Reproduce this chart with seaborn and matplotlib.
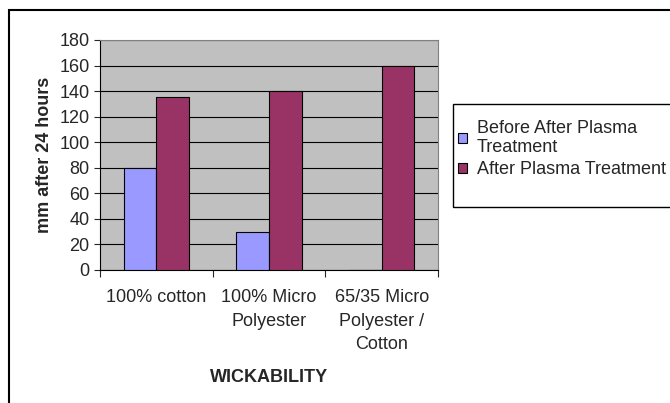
import pandas as pd
import numpy as np
import matplotlib
matplotlib.use('Agg')
import matplotlib.pyplot as plt
import seaborn as sns
from matplotlib.patches import Rectangle, Patch

# Data
fabrics = ['100% cotton', '100% Micro\nPolyester', '65/35 Micro\nPolyester /\nCotton']
before = [80, 30, 0]
after = [135, 140, 160]
series = ['Before After Plasma\nTreatment', 'After Plasma Treatment']
colors = ['#9999FF', '#993366']

df = pd.DataFrame({
    'fabric': fabrics * 2,
    'value': before + after,
    'series': [series[0]] * 3 + [series[1]] * 3,
})

sns.set_style('white')
plt.rcParams['font.family'] = ['Liberation Sans', 'DejaVu Sans']

W, H = 670, 403
fig = plt.figure(figsize=(W / 100, H / 100), dpi=100)
ax = fig.add_axes([100 / W, (H - 270) / H, 338 / W, 230 / H])

sns.barplot(data=df, x='fabric', y='value', hue='series', palette=colors,
            saturation=1, width=0.58, edgecolor='black', linewidth=0.8, ax=ax,
            legend=False, zorder=3)

ax.set_facecolor('#C0C0C0')
ax.set_ylim(0, 180)
ax.set_xlim(-0.5, 2.5)
ax.set_yticks(np.arange(0, 181, 20))
ax.yaxis.grid(True, color='black', linewidth=0.8, zorder=1)
ax.set_axisbelow(True)
for s in ['top', 'right']:
    ax.spines[s].set_color('#808080')
    ax.spines[s].set_linewidth(0.8)
for s in ['left', 'bottom']:
    ax.spines[s].set_color('black')
    ax.spines[s].set_linewidth(0.8)

ax.tick_params(axis='y', direction='out', length=4, width=0.8, labelsize=13, pad=3.5, left=True)
ax.tick_params(axis='x', which='major', length=0, labelsize=13, pad=14)
for lbl in ax.get_xticklabels():
    lbl.set_linespacing(1.5)
ax.set_xticks([-0.5, 0.5, 1.5, 2.5], minor=True)
ax.tick_params(axis='x', which='minor', direction='out', length=5, width=0.8, bottom=True)

ax.set_xlabel('WICKABILITY', fontsize=13, fontweight='bold', labelpad=11)
ax.set_ylabel('mm after 24 hours', fontsize=13, fontweight='bold', labelpad=4.5)

# outer chart frame
fig.patches.append(Rectangle((9 / W, -0.1), 1.2, (H - 10) / H + 0.1, transform=fig.transFigure,
                             fill=False, edgecolor='black', linewidth=1.5))
# legend box
fig.patches.append(Rectangle((453 / W, (H - 207) / H), 0.5, 103 / H, transform=fig.transFigure,
                             fill=False, edgecolor='black', linewidth=1.0))
handles = [Patch(facecolor=c, edgecolor='black', linewidth=0.8) for c in colors]
leg = fig.legend(handles, series, loc='upper left', bbox_to_anchor=(458 / W, (H - 120) / H),
                 frameon=False, fontsize=13, handlelength=0.5, handleheight=0.5,
                 handletextpad=0.55, labelspacing=0.3, borderaxespad=0, borderpad=0)
for t in leg.get_texts():
    t.set_linespacing(1.15)

fig.savefig('out.png', dpi=100)
